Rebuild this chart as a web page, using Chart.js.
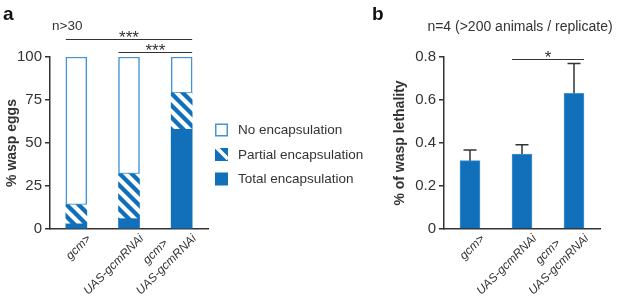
<!DOCTYPE html>
<html>
<head>
<meta charset="utf-8">
<script src="https://cdn.jsdelivr.net/npm/chart.js@4.4.1/dist/chart.umd.min.js"></script>
<style>
  html, body { margin: 0; padding: 0; background: #fff; }
  #wrap { position: relative; width: 617px; height: 300px; overflow: hidden; }
  canvas { position: absolute; top: 0; }
</style>
</head>
<body>
<div id="wrap">
  <canvas id="chartA" width="380" height="300" style="left:0"></canvas>
  <canvas id="chartB" width="247" height="300" style="left:370px"></canvas>
</div>
<script>
// genotypes on the x axis (one entry per bar, lines of the label)
const genotypes = [['gcm>'], ['UAS-gcmRNAi'], ['gcm>', 'UAS-gcmRNAi']];

// panel a: % wasp eggs, stacked
const totalEnc = [3, 6, 58];
const partialEnc = [11, 26, 21];
const noEnc = [86, 68, 21];
const encTicks = [0, 25, 50, 75, 100];
const legendLabels = ['No encapsulation', 'Partial encapsulation', 'Total encapsulation'];
const sigAFrom = [0, 1];
const sigATo = [2, 2];
const sigALevel = [110.5, 103];
const sigAText = ['***', '***'];

// panel b: % of wasp lethality, mean + error
const lethality = [0.318, 0.349, 0.631];
const lethalityErr = [0.049, 0.043, 0.139];
const lethalityTicks = [0, 0.2, 0.4, 0.6, 0.8];
const sigBFrom = [1];
const sigBTo = [2];
const sigBLevel = [0.79];
const sigBText = ['*'];

const BLUE = '#1170b9';
const EDGE = '#4394d4';
const AXIS = '#333333';
const TEXT = '#333333';
const FONT = '"Liberation Sans", Arial, Helvetica, sans-serif';

Chart.defaults.font.family = FONT;
Chart.defaults.color = TEXT;

// measure text to center the short line over the long one (labels are right aligned when rotated)
const measureCtx = document.createElement('canvas').getContext('2d');
function tickLines(lines) {
  if (lines.length === 1) return ['', lines[0]];
  measureCtx.font = 'italic 12px ' + FONT;
  const w0 = measureCtx.measureText(lines[0]).width;
  const w1 = measureCtx.measureText(lines[1]).width;
  const sp = measureCtx.measureText(' ').width;
  const n = Math.max(0, Math.round((w1 - w0) / 2 / sp));
  return [lines[0] + ' '.repeat(n), lines[1]];
}

function makeStripes(target) {
  const s = 12;
  const c = document.createElement('canvas');
  c.width = s; c.height = s;
  const g = c.getContext('2d');
  g.fillStyle = BLUE;
  g.fillRect(0, 0, s, s);
  g.strokeStyle = '#fff';
  g.lineWidth = 4.2;
  g.beginPath();
  for (let k = -1; k <= 1; k++) {
    g.moveTo(k * s - s, -s);
    g.lineTo(k * s + 2 * s, 2 * s);
  }
  g.stroke();
  return target.getContext('2d').createPattern(c, 'repeat');
}

function xScale() {
  return {
    stacked: true,
    grid: { display: false, drawTicks: false },
    border: { color: AXIS, width: 1.5 },
    ticks: {
      autoSkip: false,
      minRotation: 45,
      maxRotation: 45,
      labelOffset: 1,
      padding: -10,
      color: TEXT,
      font: { size: 12, style: 'italic', lineHeight: 1.4 },
      callback: (v, i) => tickLines(genotypes[i])
    },
    afterFit: (s) => { s.height = 71; }
  };
}

function yScale(ticks, title, width, titlePad) {
  return {
    stacked: true,
    min: ticks[0],
    max: ticks[ticks.length - 1],
    afterBuildTicks: (s) => { s.ticks = ticks.map((v) => ({ value: v })); },
    grid: { drawOnChartArea: false, drawTicks: true, tickLength: 5, color: AXIS, lineWidth: 1.5 },
    border: { color: AXIS, width: 1.5 },
    ticks: { padding: 3, color: TEXT, font: { size: 15 } },
    title: {
      display: true,
      text: title,
      color: TEXT,
      font: { size: 14, weight: 'bold' },
      padding: { top: titlePad, bottom: 0 }
    },
    afterFit: (s) => { s.width = width; }
  };
}

function sigPlugin(from, to, level, marks) {
  return {
    id: 'sig',
    afterDraw(c) {
      const { ctx } = c;
      const ys = c.scales.y;
      const bars = c.getDatasetMeta(0).data;
      ctx.save();
      ctx.strokeStyle = AXIS;
      ctx.lineWidth = 1.2;
      ctx.fillStyle = TEXT;
      ctx.font = '17px ' + FONT;
      ctx.textAlign = 'center';
      from.forEach((f, k) => {
        const x0 = bars[f].x - bars[f].width / 2;
        const x1 = bars[to[k]].x + bars[to[k]].width / 2;
        const y = Math.round(ys.getPixelForValue(level[k])) + 0.5;
        ctx.beginPath();
        ctx.moveTo(x0, y);
        ctx.lineTo(x1, y);
        ctx.stroke();
        ctx.fillText(marks[k], (x0 + x1) / 2, y + 3);
      });
      ctx.restore();
    }
  };
}

// ---------- panel a ----------
const canvasA = document.getElementById('chartA');
const stripes = makeStripes(canvasA);

const legendA = {
  id: 'legendA',
  afterDraw(c) {
    const { ctx } = c;
    const x = 215, size = 13;
    const rows = [130, 154.5, 179];
    ctx.save();
    rows.forEach((cy, k) => {
      const y = cy - size / 2;
      if (k === 0) {
        ctx.fillStyle = '#fff';
        ctx.fillRect(x, y, size, size);
        ctx.strokeStyle = EDGE;
        ctx.lineWidth = 1.5;
        ctx.strokeRect(x + 0.75, y + 0.75, size - 1.5, size - 1.5);
      } else {
        ctx.fillStyle = BLUE;
        ctx.fillRect(x, y, size, size);
        if (k === 1) {
          ctx.save();
          ctx.beginPath();
          ctx.rect(x, y, size, size);
          ctx.clip();
          ctx.strokeStyle = '#fff';
          ctx.lineWidth = 3.6;
          ctx.beginPath();
          ctx.moveTo(x - 2, y - 4);
          ctx.lineTo(x + size, y + size - 2);
          ctx.stroke();
          ctx.restore();
        }
      }
      ctx.fillStyle = TEXT;
      ctx.font = '13.5px ' + FONT;
      ctx.textBaseline = 'middle';
      ctx.fillText(legendLabels[k], 238, cy + 0.5);
    });
    ctx.font = 'bold 19px ' + FONT;
    ctx.fillStyle = '#111';
    ctx.textBaseline = 'alphabetic';
    ctx.fillText('a', 3, 20);
    ctx.font = '13.5px ' + FONT;
    ctx.fillStyle = TEXT;
    ctx.fillText('n>30', 52, 30);
    ctx.restore();
  }
};

new Chart(canvasA, {
  type: 'bar',
  data: {
    labels: genotypes,
    datasets: [
      { label: legendLabels[2], data: totalEnc, backgroundColor: BLUE, borderWidth: 0 },
      { label: legendLabels[1], data: partialEnc, backgroundColor: stripes, borderWidth: 0 },
      { label: legendLabels[0], data: noEnc, backgroundColor: '#fff', borderColor: EDGE, borderWidth: 1.5, borderSkipped: false }
    ]
  },
  options: {
    responsive: false,
    animation: false,
    layout: { padding: { left: 0, top: 57, right: 172, bottom: 0 } },
    datasets: { bar: { barThickness: 21 } },
    plugins: { legend: { display: false }, tooltip: { enabled: false } },
    scales: {
      x: xScale(),
      y: yScale(encTicks, '% wasp eggs', 50, 4)
    }
  },
  plugins: [legendA, sigPlugin(sigAFrom, sigATo, sigALevel, sigAText)]
});

// ---------- panel b ----------
const errorBars = {
  id: 'errorBars',
  afterDatasetsDraw(c) {
    const { ctx } = c;
    const ys = c.scales.y;
    const bars = c.getDatasetMeta(0).data;
    ctx.save();
    ctx.strokeStyle = AXIS;
    ctx.lineWidth = 1.5;
    bars.forEach((b, i) => {
      const yTop = ys.getPixelForValue(lethality[i] + lethalityErr[i]);
      ctx.beginPath();
      ctx.moveTo(b.x, b.y);
      ctx.lineTo(b.x, yTop);
      ctx.moveTo(b.x - 6.5, yTop);
      ctx.lineTo(b.x + 6.5, yTop);
      ctx.stroke();
    });
    ctx.restore();
  }
};

const textsB = {
  id: 'textsB',
  afterDraw(c) {
    const { ctx } = c;
    ctx.save();
    ctx.font = 'bold 19px ' + FONT;
    ctx.fillStyle = '#111';
    ctx.fillText('b', 2, 20);
    ctx.font = '14px ' + FONT;
    ctx.fillStyle = TEXT;
    ctx.textAlign = 'center';
    ctx.fillText('n=4 (>200 animals / replicate)', 150, 31);
    ctx.restore();
  }
};

new Chart(document.getElementById('chartB'), {
  type: 'bar',
  data: {
    labels: genotypes,
    datasets: [
      { label: 'lethality', data: lethality, backgroundColor: BLUE, borderColor: EDGE, borderWidth: 1, borderSkipped: 'bottom' }
    ]
  },
  options: {
    responsive: false,
    animation: false,
    layout: { padding: { left: 0, top: 57, right: 17, bottom: 0 } },
    datasets: { bar: { barThickness: 20 } },
    plugins: { legend: { display: false }, tooltip: { enabled: false } },
    scales: {
      x: xScale(),
      y: yScale(lethalityTicks, '% of wasp lethality', 74, 22)
    }
  },
  plugins: [errorBars, textsB, sigPlugin(sigBFrom, sigBTo, sigBLevel, sigBText)]
});
</script>
</body>
</html>
